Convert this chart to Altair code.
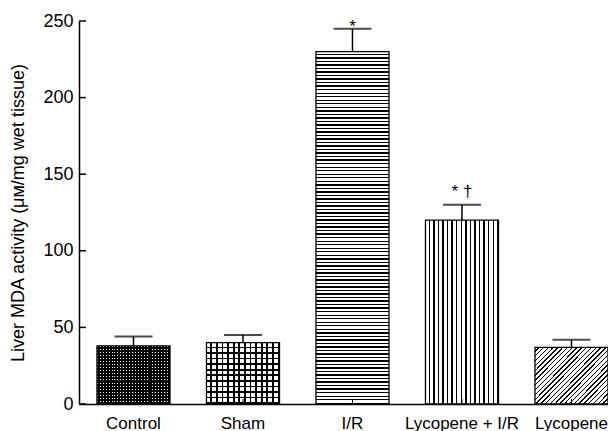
import altair as alt
import pandas as pd

# ---- data ----
groups = ["Control", "Sham", "I/R", "Lycopene + I/R", "Lycopene"]
mda_mean = [38, 40, 230, 120, 37]
mda_sem = [6, 5, 15, 10, 5]
sig_groups = ["I/R", "Lycopene + I/R"]
sig_text = ["*", "* †"]
sig_y = [243, 135]
y_tick_values = [0, 50, 100, 150, 200, 250]

df = pd.DataFrame({
    "group": groups,
    "mean": mda_mean,
    "upper": [m + s for m, s in zip(mda_mean, mda_sem)],
})
ann = pd.DataFrame({"group": sig_groups, "label": sig_text, "pos": sig_y})
yt = pd.DataFrame({"v": y_tick_values})

W, H = 529, 383
FONT = "Liberation Sans"
TITLE = "Liver MDA activity (\u03bc\u1d0d/mg wet tissue)"


def stripes(n, dark_frac, x2, y2, dark="#000000", light="#ffffff"):
    stops = []
    for i in range(n):
        a = i / n
        b = (i + 1 - dark_frac) / n
        c = (i + 1) / n
        stops += [
            alt.GradientStop(offset=a, color=light),
            alt.GradientStop(offset=b, color=light),
            alt.GradientStop(offset=b, color=dark),
            alt.GradientStop(offset=c, color=dark),
        ]
    return alt.LinearGradient(gradient="linear", stops=stops, x1=0, y1=0, x2=x2, y2=y2)


CLEAR = "rgba(255,255,255,0)"

X = alt.X(
    "group:N",
    sort=groups,
    scale=alt.Scale(domain=groups, paddingInner=0.333, paddingOuter=0.082, align=1),
    axis=alt.Axis(
        title=None, labelAngle=0, ticks=False, tickSize=0, domainColor="black",
        domainWidth=1.5, labelFont=FONT, labelFontSize=17, labelColor="black",
        labelPadding=11, grid=False,
    ),
)


def Y(field):
    return alt.Y(
        field,
        scale=alt.Scale(domain=[0, 250], nice=False),
        axis=alt.Axis(
            values=y_tick_values, title=TITLE, ticks=False, tickSize=0,
            domainColor="black", domainWidth=1.5, labelFont=FONT, labelFontSize=18,
            labelColor="black", labelPadding=6, titleFont=FONT, titleFontSize=18,
            titleFontWeight="normal", titleColor="black", titlePadding=15, grid=False,
        ),
    )


base = alt.Chart(df).encode(x=X, y=Y("mean:Q"))


def bar_layer(name, fill):
    return base.transform_filter(alt.datum.group == name).mark_bar(fill=fill, strokeWidth=0)


layers = [
    bar_layer("Control", stripes(25, 0.68, 1, 0)),
    bar_layer("Control", stripes(19, 0.68, 0, 1, light=CLEAR)),
    bar_layer("Sham", stripes(13, 0.32, 1, 0)),
    bar_layer("Sham", stripes(11, 0.32, 0, 1, light=CLEAR)),
    bar_layer("I/R", stripes(100, 0.4, 0, 1)),
    bar_layer("Lycopene + I/R", stripes(16, 0.3, 1, 0)),
    bar_layer("Lycopene", stripes(27, 0.3, 1.113, 0.854)),
    base.mark_bar(fill="white", fillOpacity=0, stroke="black", strokeWidth=1.3),
    alt.Chart(df).mark_rule(color="black", strokeWidth=1).encode(
        x=X, y=alt.value(H), y2=alt.value(H - 5)
    ),
    alt.Chart(yt).mark_rule(color="black", strokeWidth=1.5).encode(
        y=Y("v:Q"), x=alt.value(0), x2=alt.value(7)
    ),
    base.mark_rule(color="black", strokeWidth=1.5).encode(y2="upper:Q"),
    alt.Chart(df).mark_tick(color="black", size=38, thickness=2, orient="horizontal").encode(
        x=X, y=Y("upper:Q")
    ),
    alt.Chart(ann).mark_text(
        font=FONT, fontSize=17, color="black", baseline="alphabetic", align="center"
    ).encode(x=X, y=Y("pos:Q"), text="label:N"),
]

chart = alt.layer(*layers).properties(
    width=W,
    height=H,
    autosize=alt.AutoSizeParams(type="none"),
    padding={"left": 71, "top": 13, "right": 0, "bottom": 31},
    background="white",
).configure_view(stroke=None)

chart.save("out.html", embed_options={"renderer": "svg", "actions": False})
